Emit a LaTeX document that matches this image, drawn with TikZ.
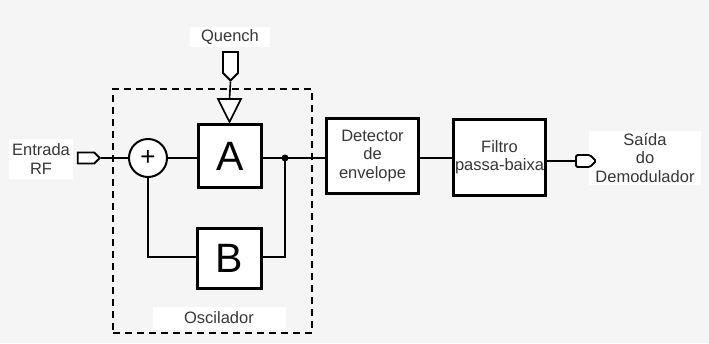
\documentclass[tikz,border=0pt]{standalone}
\usepackage{fontspec}
\setmainfont{Liberation Sans}
\usetikzlibrary{shapes.symbols}
\definecolor{bgc}{RGB}{245,245,245}
\definecolor{txt}{RGB}{55,55,55}
\begin{document}
\begin{tikzpicture}[x=1pt,y=-1pt,
  blk/.style={draw, line width=3pt, fill=white, inner sep=0pt, text=black},
  wire/.style={line width=1.6pt},
  lbl/.style={fill=white, text=txt, font=\fontsize{16.5}{18.5}\selectfont, align=center, inner sep=0pt},
  term/.style={draw, line width=1.8pt, fill=white, signal, inner sep=0pt},
  frame/.style={draw, line width=2pt, dash pattern=on 7pt off 5pt, inner sep=0pt}
]
\fill[bgc] (0,0) rectangle (709,343);
\useasboundingbox (0,0) rectangle (709,343);

% oscillator frame
\node[frame, minimum width=199pt, minimum height=244pt] (osc) at (212.5,211) {};

% labels
\node[lbl, minimum width=80pt, minimum height=20pt] (qlbl) at (230,37) {Quench};
\node[lbl, minimum width=64pt, minimum height=40pt] (elbl) at (41,159) {Entrada\\RF};
\node[lbl, minimum width=112pt, minimum height=54pt] (slbl) at (645,158) {Saída\\do\\Demodulador};
\node[lbl, minimum width=133pt, minimum height=23pt] (olbl) at (219,318) {Oscilador};

% blocks
\node[blk, minimum width=63pt, minimum height=63pt, font=\fontsize{41}{41}\selectfont] (A) at (230,156) {A};
\node[blk, minimum width=64pt, minimum height=60pt, font=\fontsize{41}{41}\selectfont] (B) at (229.5,258.5) {B};
\node[blk, minimum width=92pt, minimum height=75pt, font=\fontsize{16.5}{18.5}\selectfont, align=center, text=txt] (det) at (372.5,156) {Detector\\de\\envelope};
\node[blk, minimum width=92pt, minimum height=76pt, font=\fontsize{16.5}{18.5}\selectfont, align=center, text=txt] (fil) at (499.5,157) {Filtro\\passa-baixa};

% summing junction
\node[draw, circle, line width=2pt, fill=white, minimum size=38pt, inner sep=0pt, font=\fontsize{26}{26}\selectfont] (sum) at (148,158) {+};

% terminals
\node[term, signal to=east, minimum width=22pt, minimum height=11pt] (tin) at (86,158) {};
\node[term, signal to=east, minimum width=20pt, minimum height=12pt, rounded corners=1.5pt] (tout) at (583,161) {};
\node[term, signal to=south, minimum width=15pt, minimum height=21pt] (tq) at (230.5,62.5) {};

% triangle at A input
\coordinate (trtop) at (229.5,99);
\coordinate (trtip) at (229.5,122);
\draw[line width=1.6pt, fill=white, line join=miter] (218,99) -- (241,99) -- (trtip) -- cycle;

% junction
\coordinate (j) at (285,158);
\coordinate (jb) at (285,257);
\coordinate (sb) at (148,257);

% connectors
\draw[wire] (tin.east) -- (sum.west);
\draw[wire] (sum.east) -- (sum.east -| A.west);
\draw[wire] (tq.south) -- (trtop);
\draw[wire] (j -| A.east) -- (j) -- (j -| det.west);
\draw[wire] (j) -- (jb) -- (jb -| B.east);
\draw[wire] (jb -| B.west) -- (sb) -- (sum.south);
\draw[wire] (det.east |- 0,158) -- (fil.west |- 0,158);
\draw[wire] (fil.east |- tout) -- (tout.west);
\fill (j) circle (3.5pt);
\end{tikzpicture}
\end{document}
